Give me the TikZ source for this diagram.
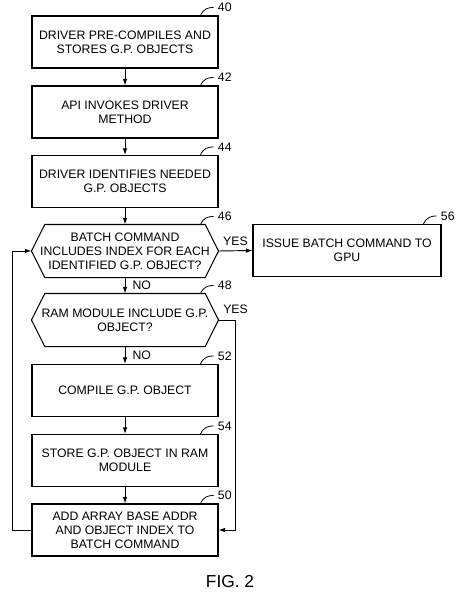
\documentclass[tikz,border=0pt]{standalone}
\usepackage{fontspec}
\setmainfont{Liberation Sans}
\usetikzlibrary{arrows.meta}

\begin{document}
\begin{tikzpicture}[x=0.75pt,y=-0.75pt,
  font=\fontsize{9.2}{10.5}\selectfont,
  stepbox/.style={draw,line width=0.8pt,minimum width=139.5pt,minimum height=39pt,align=center,inner sep=2pt},
  testbox/.style={stepbox,draw=none},
  flow/.style={line width=0.7pt,-{Latex[length=5pt,width=3.5pt]}},
  ref/.style={anchor=west,inner sep=1pt},
  ]
 \useasboundingbox (0,0) rectangle (462,599);

 % main column
 \node[stepbox] (s40) at (125,42)    {DRIVER PRE-COMPILES AND\\STORES G.P. OBJECTS};
 \node[stepbox] (s42) at (125,112)   {API INVOKES DRIVER\\METHOD};
 \node[stepbox] (s44) at (125,181.5) {DRIVER IDENTIFIES NEEDED\\G.P. OBJECTS};
 \node[testbox] (t46) at (125,251)   {BATCH COMMAND\\INCLUDES INDEX FOR EACH\\IDENTIFIED G.P. OBJECT?};
 \node[testbox] (t48) at (125,320)   {RAM MODULE INCLUDE G.P.\\OBJECT?};
 \node[stepbox] (s52) at (125,390.5) {COMPILE G.P. OBJECT};
 \node[stepbox] (s54) at (125,460.5) {STORE G.P. OBJECT IN RAM\\MODULE};
 \node[stepbox] (s50) at (125,530)   {ADD ARRAY BASE ADDR\\AND OBJECT INDEX TO\\BATCH COMMAND};
 % side branch
 \node[stepbox,minimum width=141pt] (s56) at (347,250.5) {ISSUE BATCH COMMAND TO\\GPU};

 % decision outlines
 \foreach \n in {t46,t48}
   \draw[line width=0.8pt] ([xshift=10pt]\n.north west) -- ([xshift=-10pt]\n.north east) -- (\n.east)
     -- ([xshift=-10pt]\n.south east) -- ([xshift=10pt]\n.south west) -- (\n.west) -- cycle;

 % reference numerals
 \foreach \n/\num in {s40/40,s42/42,s44/44,t46/46,t48/48,s52/52,s54/54,s50/50,s56/56}
   \draw[line width=0.6pt] (\n.north east) ++(-18,0) .. controls +(3,-7) and +(-5,0) .. ++(13,-8)
     node[ref,xshift=2pt] {\num};

 \draw[flow] (s40) -- (s42);
 \draw[flow] (s42) -- (s44);
 \draw[flow] (s44) -- (t46);
 \draw[flow] (t46) -- node[right,xshift=2pt] {NO} (t48);
 \draw[flow] (t46.east) -- node[above] {YES} (s56.west);
 \draw[flow] (t48) -- node[right,xshift=2pt] {NO} (s52);
 \draw[flow] (s52) -- (s54);
 \draw[flow] (s54) -- (s50);
 \draw[flow] (t48.east) -- ++(17,0) node[above,yshift=1pt] {YES} |- (s50.east); % skip compile
 \draw[flow] (s50.west) -- ++(-19,0) |- (t46.west); % loop back

 \node[font=\fontsize{13}{15}\selectfont] (fig) at (230,582) {FIG. 2};

\end{tikzpicture}
\end{document}
